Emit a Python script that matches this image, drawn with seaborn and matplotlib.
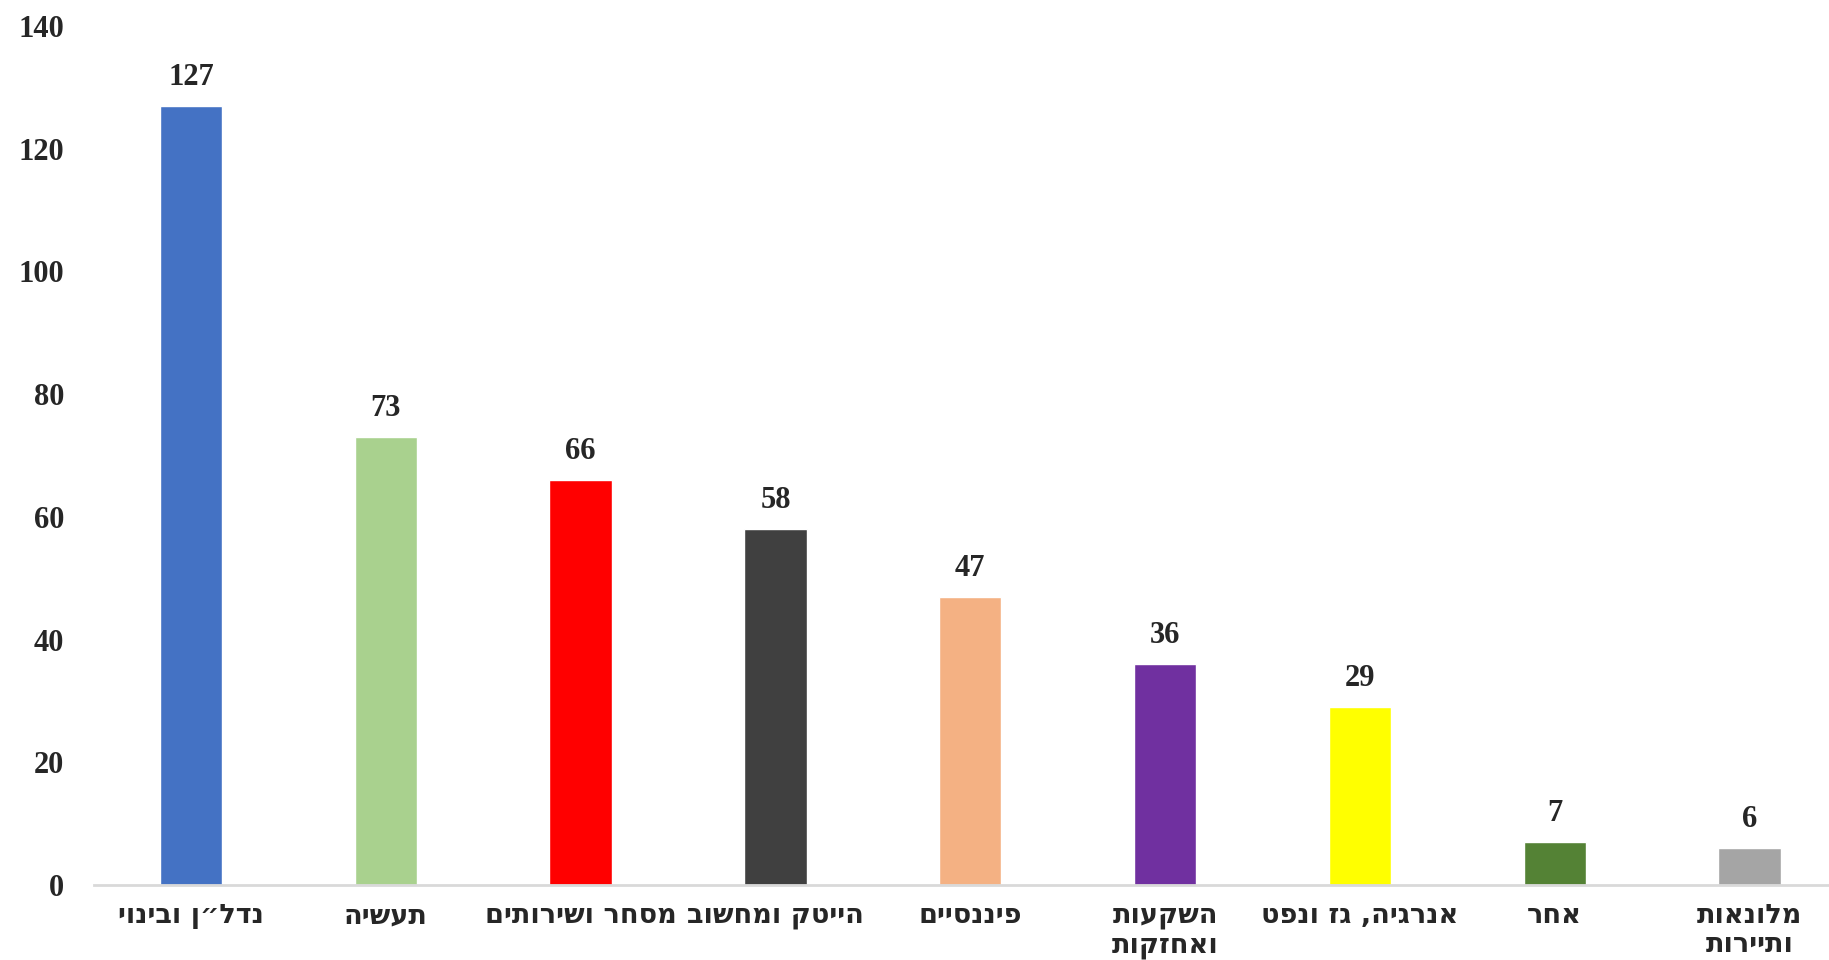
import matplotlib
matplotlib.use("Agg")
import matplotlib.pyplot as plt
import seaborn as sns
import pandas as pd

categories = ["נדל״ן ובינוי", "תעשיה", "מסחר ושירותים", "הייטק ומחשוב", "פיננסיים",
              "השקעות\nואחזקות", "אנרגיה, גז ונפט", "אחר", "מלונאות\nותיירות"]
values = [127, 73, 66, 58, 47, 36, 29, 7, 6]
colors = ["#4472C4", "#A9D18E", "#FF0000", "#404040", "#F4B183",
          "#7030A0", "#FFFF00", "#548235", "#A5A5A5"]
yticks = [0, 20, 40, 60, 80, 100, 120, 140]


def rtl(s):
    return "\n".join(line[::-1] for line in s.split("\n"))


sns.set_theme(style="white")
plt.rcParams['font.family'] = ['Liberation Serif', 'DejaVu Serif']
plt.rcParams['font.weight'] = 'bold'

df = pd.DataFrame({"cat": [rtl(c) for c in categories], "val": values})

fig = plt.figure(figsize=(18.29, 9.6), dpi=100)
ax = fig.add_axes([0.0512, 0.078, 0.9586, 0.895])
sns.barplot(data=df, x="cat", y="val", hue="cat", palette=colors, legend=False,
            width=0.32, ax=ax, saturation=1)

ax.set_ylim(0, 140)
ax.set_yticks(yticks)
ax.set_xlim(-0.5, len(categories) - 0.5)
ax.set_xlabel("")
ax.set_ylabel("")
for lbl in ax.get_yticklabels():
    lbl.set_fontsize(22)
    lbl.set_fontweight("bold")
for lbl in ax.get_xticklabels():
    lbl.set_fontsize(19.5)
    lbl.set_fontweight("bold")
    lbl.set_fontfamily(["DejaVu Sans"])
    lbl.set_verticalalignment("top")
    lbl.set_linespacing(1.15)
ax.tick_params(axis="y", length=0, pad=21)
ax.tick_params(axis="x", length=0, pad=13)

for s in ["top", "right", "left"]:
    ax.spines[s].set_visible(False)
ax.spines["bottom"].set_color("#D9D9D9")
ax.spines["bottom"].set_linewidth(2)

for i, v in enumerate(values):
    ax.annotate(str(v), (i, v), xytext=(0, 10), textcoords="offset points",
                ha="center", va="bottom", fontsize=22, fontweight="bold")

fig.savefig("out.png", dpi=100, facecolor="white")
